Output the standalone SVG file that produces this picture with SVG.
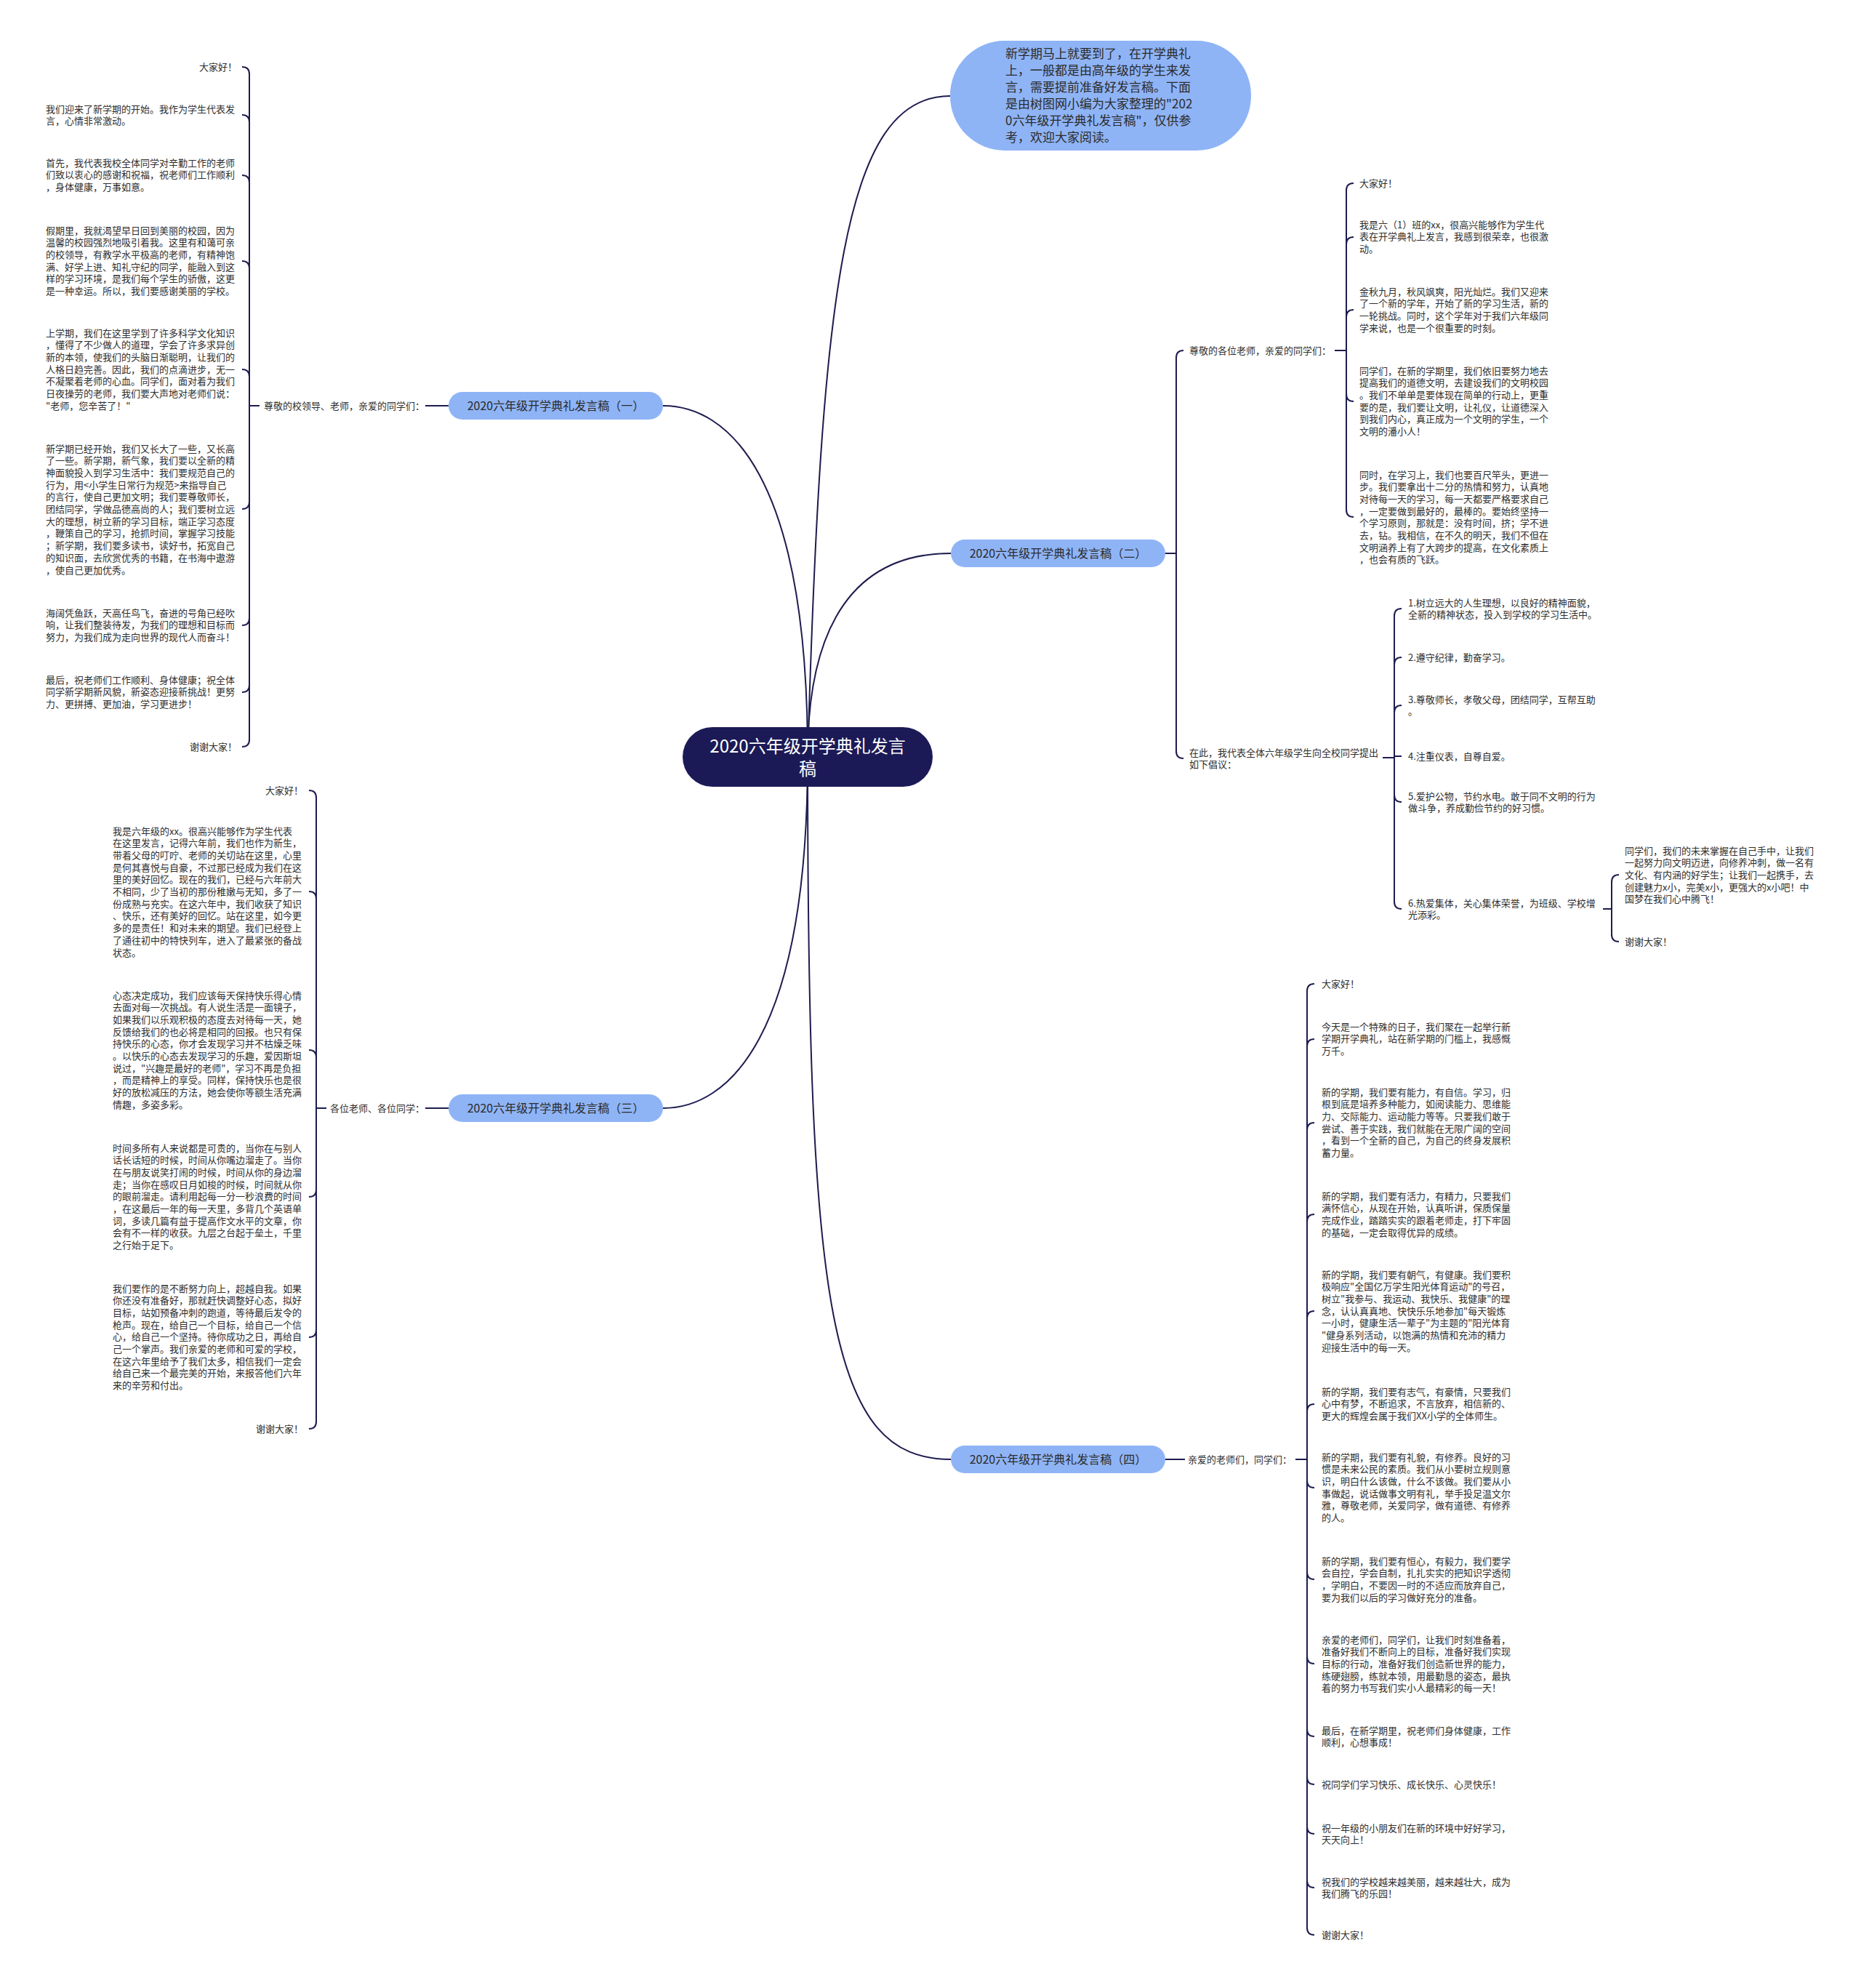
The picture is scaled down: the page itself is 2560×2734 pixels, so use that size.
<svg xmlns="http://www.w3.org/2000/svg" width="2560" height="2734" viewBox="0 0 2560 2734">
<style>
text { font-family: "Noto Sans CJK SC", "Noto Sans", sans-serif; }
.leaf { font-size: 13px; fill: #2e2e2e; }
.e { text-anchor: end; }
.ln { fill: none; stroke: #1e1c4f; stroke-width: 2; }
.n1 { fill: #8fb4f6; }
.t1 { font-size: 16px; fill: #2b2b2b; text-anchor: middle; }
.root { fill: #1c1a56; }
.troot { font-size: 24px; fill: #ffffff; text-anchor: middle; }
.intro { font-size: 17px; fill: #2b2b2b; }
</style>
<rect width="2560" height="2734" fill="#ffffff"/>

<g id="connectors">
  <!-- center to branches -->
  <path class="ln" d="M1111,1040 C1130,400 1160,132 1307,132"/>
  <path class="ln" d="M1111,1040 C1111,650 1000,558 912,558"/>
  <path class="ln" d="M1111,1040 C1111,900 1150,761 1308,761"/>
  <path class="ln" d="M1111,1040 C1111,1430 1000,1524 912,1524"/>
  <path class="ln" d="M1111,1040 C1111,1800 1140,2007 1308,2007"/>

  <!-- branch 1 -->
  <path class="ln" d="M585,558 L617,558"/>
  <path class="ln" d="M343,558 L357,558"/>
  <path class="ln" d="M343,100 L343,1019"/>
  <path class="ln" d="M333,92 Q343,92 343,102"/>
  <path class="ln" d="M333,158 Q343,158 343,168"/>
  <path class="ln" d="M333,241 Q343,241 343,251"/>
  <path class="ln" d="M333,359 Q343,359 343,369"/>
  <path class="ln" d="M333,508 Q343,508 343,518"/>
  <path class="ln" d="M333,700 Q343,700 343,690"/>
  <path class="ln" d="M333,860 Q343,860 343,850"/>
  <path class="ln" d="M333,952 Q343,952 343,942"/>
  <path class="ln" d="M333,1027 Q343,1027 343,1017"/>

  <!-- branch 3 -->
  <path class="ln" d="M585,1524 L617,1524"/>
  <path class="ln" d="M435,1524 L449,1524"/>
  <path class="ln" d="M435,1095 L435,1957"/>
  <path class="ln" d="M425,1087 Q435,1087 435,1097"/>
  <path class="ln" d="M425,1226 Q435,1226 435,1236"/>
  <path class="ln" d="M425,1444 Q435,1444 435,1454"/>
  <path class="ln" d="M425,1646 Q435,1646 435,1636"/>
  <path class="ln" d="M425,1839 Q435,1839 435,1829"/>
  <path class="ln" d="M425,1965 Q435,1965 435,1955"/>

  <!-- branch 2 -->
  <path class="ln" d="M1603,761 L1618,761"/>
  <path class="ln" d="M1618,490 L1618,1035"/>
  <path class="ln" d="M1628,482 Q1618,482 1618,492"/>
  <path class="ln" d="M1628,1043 Q1618,1043 1618,1033"/>
  <!-- label A -->
  <path class="ln" d="M1836,482 L1852,482"/>
  <path class="ln" d="M1852,260 L1852,703"/>
  <path class="ln" d="M1862,252 Q1852,252 1852,262"/>
  <path class="ln" d="M1862,326 Q1852,326 1852,336"/>
  <path class="ln" d="M1862,426 Q1852,426 1852,436"/>
  <path class="ln" d="M1862,552 Q1852,552 1852,542"/>
  <path class="ln" d="M1862,711 Q1852,711 1852,701"/>
  <!-- label B -->
  <path class="ln" d="M1902,1042 L1918,1042"/>
  <path class="ln" d="M1918,845 L1918,1242"/>
  <path class="ln" d="M1928,837 Q1918,837 1918,847"/>
  <path class="ln" d="M1928,904 Q1918,904 1918,914"/>
  <path class="ln" d="M1928,970 Q1918,970 1918,980"/>
  <path class="ln" d="M1918,1040 L1928,1040"/>
  <path class="ln" d="M1928,1103 Q1918,1103 1918,1093"/>
  <path class="ln" d="M1928,1250 Q1918,1250 1918,1240"/>
  <!-- item 6 -->
  <path class="ln" d="M2205,1250 L2217,1250"/>
  <path class="ln" d="M2217,1211 L2217,1287"/>
  <path class="ln" d="M2227,1203 Q2217,1203 2217,1213"/>
  <path class="ln" d="M2227,1295 Q2217,1295 2217,1285"/>

  <!-- branch 4 -->
  <path class="ln" d="M1603,2007 L1630,2007"/>
  <path class="ln" d="M1782,2007 L1798,2007"/>
  <path class="ln" d="M1798,1361 L1798,2653"/>
  <path class="ln" d="M1808,1353 Q1798,1353 1798,1363"/>
  <path class="ln" d="M1808,1429 Q1798,1429 1798,1439"/>
  <path class="ln" d="M1808,1544 Q1798,1544 1798,1554"/>
  <path class="ln" d="M1808,1670 Q1798,1670 1798,1680"/>
  <path class="ln" d="M1808,1803 Q1798,1803 1798,1813"/>
  <path class="ln" d="M1808,1931 Q1798,1931 1798,1941"/>
  <path class="ln" d="M1808,2046 Q1798,2046 1798,2036"/>
  <path class="ln" d="M1808,2172 Q1798,2172 1798,2162"/>
  <path class="ln" d="M1808,2288 Q1798,2288 1798,2278"/>
  <path class="ln" d="M1808,2388 Q1798,2388 1798,2378"/>
  <path class="ln" d="M1808,2454 Q1798,2454 1798,2444"/>
  <path class="ln" d="M1808,2522 Q1798,2522 1798,2512"/>
  <path class="ln" d="M1808,2596 Q1798,2596 1798,2586"/>
  <path class="ln" d="M1808,2661 Q1798,2661 1798,2651"/>
</g>

<g id="root">
  <rect class="root" x="939" y="1000" width="344" height="82" rx="41"/>
  <text class="troot" x="1111" y="1035">2020六年级开学典礼发言</text>
  <text class="troot" x="1111" y="1066">稿</text>
</g>

<g id="intro">
  <rect class="n1" x="1307" y="56" width="414" height="151" rx="75"/>
  <text class="intro" x="1383" y="80">
    <tspan x="1383">新学期马上就要到了，在开学典礼</tspan>
    <tspan x="1383" dy="23">上，一般都是由高年级的学生来发</tspan>
    <tspan x="1383" dy="23">言，需要提前准备好发言稿。下面</tspan>
    <tspan x="1383" dy="23">是由树图网小编为大家整理的"202</tspan>
    <tspan x="1383" dy="23">0六年级开学典礼发言稿"，仅供参</tspan>
    <tspan x="1383" dy="23">考，欢迎大家阅读。</tspan>
  </text>
</g>

<g id="branch1">
  <rect class="n1" x="617" y="539" width="295" height="38" rx="19"/>
  <text class="t1" x="764.5" y="563.5">2020六年级开学典礼发言稿（一）</text>
</g>
<g id="branch2">
  <rect class="n1" x="1308" y="742" width="295" height="38" rx="19"/>
  <text class="t1" x="1455.5" y="766.5">2020六年级开学典礼发言稿（二）</text>
</g>
<g id="branch3">
  <rect class="n1" x="617" y="1505" width="295" height="38" rx="19"/>
  <text class="t1" x="764.5" y="1529.5">2020六年级开学典礼发言稿（三）</text>
</g>
<g id="branch4">
  <rect class="n1" x="1308" y="1988" width="295" height="38" rx="19"/>
  <text class="t1" x="1455.5" y="2012.5">2020六年级开学典礼发言稿（四）</text>
</g>

<g id="b1-children">
  <text class="leaf" x="363" y="562.5">尊敬的校领导、老师，亲爱的同学们：</text>
  <text class="leaf e" x="326" y="96.5">大家好！</text>
  <text class="leaf" x="63" y="154.5"><tspan x="63">我们迎来了新学期的开始。我作为学生代表发</tspan><tspan x="63" dy="16.7">言，心情非常激动。</tspan></text>
  <text class="leaf" x="63" y="228.5"><tspan x="63">首先，我代表我校全体同学对辛勤工作的老师</tspan><tspan x="63" dy="16.7">们致以衷心的感谢和祝福，祝老师们工作顺利</tspan><tspan x="63" dy="16.7">，身体健康，万事如意。</tspan></text>
  <text class="leaf" x="63" y="321.5"><tspan x="63">假期里，我就渴望早日回到美丽的校园，因为</tspan><tspan x="63" dy="16.7">温馨的校园强烈地吸引着我。这里有和蔼可亲</tspan><tspan x="63" dy="16.7">的校领导，有教学水平极高的老师，有精神饱</tspan><tspan x="63" dy="16.7">满、好学上进、知礼守纪的同学，能融入到这</tspan><tspan x="63" dy="16.7">样的学习环境，是我们每个学生的骄傲，这更</tspan><tspan x="63" dy="16.7">是一种幸运。所以，我们要感谢美丽的学校。</tspan></text>
  <text class="leaf" x="63" y="462.5"><tspan x="63">上学期，我们在这里学到了许多科学文化知识</tspan><tspan x="63" dy="16.7">，懂得了不少做人的道理，学会了许多求异创</tspan><tspan x="63" dy="16.7">新的本领，使我们的头脑日渐聪明，让我们的</tspan><tspan x="63" dy="16.7">人格日趋完善。因此，我们的点滴进步，无一</tspan><tspan x="63" dy="16.7">不凝聚着老师的心血。同学们，面对着为我们</tspan><tspan x="63" dy="16.7">日夜操劳的老师，我们要大声地对老师们说：</tspan><tspan x="63" dy="16.7">"老师，您辛苦了！"</tspan></text>
  <text class="leaf" x="63" y="621.5"><tspan x="63">新学期已经开始，我们又长大了一些，又长高</tspan><tspan x="63" dy="16.7">了一些。新学期，新气象，我们要以全新的精</tspan><tspan x="63" dy="16.7">神面貌投入到学习生活中：我们要规范自己的</tspan><tspan x="63" dy="16.7">行为，用&lt;小学生日常行为规范&gt;来指导自己</tspan><tspan x="63" dy="16.7">的言行，使自己更加文明；我们要尊敬师长，</tspan><tspan x="63" dy="16.7">团结同学，学做品德高尚的人；我们要树立远</tspan><tspan x="63" dy="16.7">大的理想，树立新的学习目标，端正学习态度</tspan><tspan x="63" dy="16.7">，鞭策自己的学习，抢抓时间，掌握学习技能</tspan><tspan x="63" dy="16.7">；新学期，我们要多读书，读好书，拓宽自己</tspan><tspan x="63" dy="16.7">的知识面，去欣赏优秀的书籍，在书海中遨游</tspan><tspan x="63" dy="16.7">，使自己更加优秀。</tspan></text>
  <text class="leaf" x="63" y="847.5"><tspan x="63">海阔凭鱼跃，天高任鸟飞，奋进的号角已经吹</tspan><tspan x="63" dy="16.7">响，让我们整装待发，为我们的理想和目标而</tspan><tspan x="63" dy="16.7">努力，为我们成为走向世界的现代人而奋斗！</tspan></text>
  <text class="leaf" x="63" y="939.5"><tspan x="63">最后，祝老师们工作顺利、身体健康；祝全体</tspan><tspan x="63" dy="16.7">同学新学期新风貌，新姿态迎接新挑战！更努</tspan><tspan x="63" dy="16.7">力、更拼搏、更加油，学习更进步！</tspan></text>
  <text class="leaf e" x="326" y="1031.5">谢谢大家！</text>
</g>

<g id="b3-children">
  <text class="leaf" x="454" y="1528.5">各位老师、各位同学：</text>
  <text class="leaf e" x="417" y="1091.5">大家好！</text>
  <text class="leaf" x="155" y="1147.5"><tspan x="155">我是六年级的xx。很高兴能够作为学生代表</tspan><tspan x="155" dy="16.7">在这里发言，记得六年前，我们也作为新生，</tspan><tspan x="155" dy="16.7">带着父母的叮咛、老师的关切站在这里，心里</tspan><tspan x="155" dy="16.7">是何其喜悦与自豪，不过那已经成为我们在这</tspan><tspan x="155" dy="16.7">里的美好回忆。现在的我们，已经与六年前大</tspan><tspan x="155" dy="16.7">不相同，少了当初的那份稚嫩与无知，多了一</tspan><tspan x="155" dy="16.7">份成熟与充实。在这六年中，我们收获了知识</tspan><tspan x="155" dy="16.7">、快乐，还有美好的回忆。站在这里，如今更</tspan><tspan x="155" dy="16.7">多的是责任！和对未来的期望。我们已经登上</tspan><tspan x="155" dy="16.7">了通往初中的特快列车，进入了最紧张的备战</tspan><tspan x="155" dy="16.7">状态。</tspan></text>
  <text class="leaf" x="155" y="1373.5"><tspan x="155">心态决定成功，我们应该每天保持快乐得心情</tspan><tspan x="155" dy="16.7">去面对每一次挑战。有人说生活是一面镜子，</tspan><tspan x="155" dy="16.7">如果我们以乐观积极的态度去对待每一天，她</tspan><tspan x="155" dy="16.7">反馈给我们的也必将是相同的回报。也只有保</tspan><tspan x="155" dy="16.7">持快乐的心态，你才会发现学习并不枯燥乏味</tspan><tspan x="155" dy="16.7">。以快乐的心态去发现学习的乐趣，爱因斯坦</tspan><tspan x="155" dy="16.7">说过，"兴趣是最好的老师"，学习不再是负担</tspan><tspan x="155" dy="16.7">，而是精神上的享受。同样，保持快乐也是很</tspan><tspan x="155" dy="16.7">好的放松减压的方法，她会使你等额生活充满</tspan><tspan x="155" dy="16.7">情趣，多姿多彩。</tspan></text>
  <text class="leaf" x="155" y="1583.5"><tspan x="155">时间多所有人来说都是可贵的，当你在与别人</tspan><tspan x="155" dy="16.7">话长话短的时候，时间从你嘴边溜走了。当你</tspan><tspan x="155" dy="16.7">在与朋友说笑打闹的时候，时间从你的身边溜</tspan><tspan x="155" dy="16.7">走；当你在感叹日月如梭的时候，时间就从你</tspan><tspan x="155" dy="16.7">的眼前溜走。请利用起每一分一秒浪费的时间</tspan><tspan x="155" dy="16.7">，在这最后一年的每一天里，多背几个英语单</tspan><tspan x="155" dy="16.7">词，多读几篇有益于提高作文水平的文章，你</tspan><tspan x="155" dy="16.7">会有不一样的收获。九层之台起于垒土，千里</tspan><tspan x="155" dy="16.7">之行始于足下。</tspan></text>
  <text class="leaf" x="155" y="1776.5"><tspan x="155">我们要作的是不断努力向上，超越自我。如果</tspan><tspan x="155" dy="16.7">你还没有准备好，那就赶快调整好心态，拟好</tspan><tspan x="155" dy="16.7">目标，站如预备冲刺的跑道，等待最后发令的</tspan><tspan x="155" dy="16.7">枪声。现在，给自己一个目标，给自己一个信</tspan><tspan x="155" dy="16.7">心，给自己一个坚持。待你成功之日，再给自</tspan><tspan x="155" dy="16.7">己一个掌声。我们亲爱的老师和可爱的学校，</tspan><tspan x="155" dy="16.7">在这六年里给予了我们太多，相信我们一定会</tspan><tspan x="155" dy="16.7">给自己来一个最完美的开始，来报答他们六年</tspan><tspan x="155" dy="16.7">来的辛劳和付出。</tspan></text>
  <text class="leaf e" x="417" y="1969.5">谢谢大家！</text>
</g>

<g id="b2-children">
  <text class="leaf" x="1636" y="486.5">尊敬的各位老师，亲爱的同学们：</text>
  <text class="leaf" x="1870" y="256.5">大家好！</text>
  <text class="leaf" x="1870" y="313.5"><tspan x="1870">我是六（1）班的xx，很高兴能够作为学生代</tspan><tspan x="1870" dy="16.7">表在开学典礼上发言，我感到很荣幸，也很激</tspan><tspan x="1870" dy="16.7">动。</tspan></text>
  <text class="leaf" x="1870" y="405.5"><tspan x="1870">金秋九月，秋风飒爽，阳光灿烂。我们又迎来</tspan><tspan x="1870" dy="16.7">了一个新的学年，开始了新的学习生活，新的</tspan><tspan x="1870" dy="16.7">一轮挑战。同时，这个学年对于我们六年级同</tspan><tspan x="1870" dy="16.7">学来说，也是一个很重要的时刻。</tspan></text>
  <text class="leaf" x="1870" y="514.5"><tspan x="1870">同学们，在新的学期里，我们依旧要努力地去</tspan><tspan x="1870" dy="16.7">提高我们的道德文明，去建设我们的文明校园</tspan><tspan x="1870" dy="16.7">。我们不单单是要体现在简单的行动上，更重</tspan><tspan x="1870" dy="16.7">要的是，我们要让文明，让礼仪，让道德深入</tspan><tspan x="1870" dy="16.7">到我们内心，真正成为一个文明的学生，一个</tspan><tspan x="1870" dy="16.7">文明的潘小人！</tspan></text>
  <text class="leaf" x="1870" y="657.5"><tspan x="1870">同时，在学习上，我们也要百尺竿头，更进一</tspan><tspan x="1870" dy="16.7">步。我们要拿出十二分的热情和努力，认真地</tspan><tspan x="1870" dy="16.7">对待每一天的学习，每一天都要严格要求自己</tspan><tspan x="1870" dy="16.7">，一定要做到最好的，最棒的。要始终坚持一</tspan><tspan x="1870" dy="16.7">个学习原则，那就是：没有时间，挤；学不进</tspan><tspan x="1870" dy="16.7">去，钻。我相信，在不久的明天，我们不但在</tspan><tspan x="1870" dy="16.7">文明涵养上有了大跨步的提高，在文化素质上</tspan><tspan x="1870" dy="16.7">，也会有质的飞跃。</tspan></text>

  <text class="leaf" x="1636" y="1039.5"><tspan x="1636">在此，我代表全体六年级学生向全校同学提出</tspan><tspan x="1636" dy="16.7">如下倡议：</tspan></text>
  <text class="leaf" x="1937" y="833.5"><tspan x="1937">1.树立远大的人生理想，以良好的精神面貌，</tspan><tspan x="1937" dy="16.7">全新的精神状态，投入到学校的学习生活中。</tspan></text>
  <text class="leaf" x="1937" y="908.5">2.遵守纪律，勤奋学习。</text>
  <text class="leaf" x="1937" y="966.5"><tspan x="1937">3.尊敬师长，孝敬父母，团结同学，互帮互助</tspan><tspan x="1937" dy="16.7">。</tspan></text>
  <text class="leaf" x="1937" y="1044.5">4.注重仪表，自尊自爱。</text>
  <text class="leaf" x="1937" y="1099.5"><tspan x="1937">5.爱护公物，节约水电。敢于同不文明的行为</tspan><tspan x="1937" dy="16.7">做斗争，养成勤俭节约的好习惯。</tspan></text>
  <text class="leaf" x="1937" y="1246.5"><tspan x="1937">6.热爱集体，关心集体荣誉，为班级、学校增</tspan><tspan x="1937" dy="16.7">光添彩。</tspan></text>
  <text class="leaf" x="2235" y="1174.5"><tspan x="2235">同学们，我们的未来掌握在自己手中，让我们</tspan><tspan x="2235" dy="16.7">一起努力向文明迈进，向修养冲刺，做一名有</tspan><tspan x="2235" dy="16.7">文化、有内涵的好学生；让我们一起携手，去</tspan><tspan x="2235" dy="16.7">创建魅力x小，完美x小，更强大的x小吧！中</tspan><tspan x="2235" dy="16.7">国梦在我们心中腾飞！</tspan></text>
  <text class="leaf" x="2235" y="1299.5">谢谢大家！</text>
</g>

<g id="b4-children">
  <text class="leaf" x="1634" y="2011.5">亲爱的老师们，同学们：</text>
  <text class="leaf" x="1818" y="1357.5">大家好！</text>
  <text class="leaf" x="1818" y="1416.5"><tspan x="1818">今天是一个特殊的日子，我们聚在一起举行新</tspan><tspan x="1818" dy="16.7">学期开学典礼，站在新学期的门槛上，我感慨</tspan><tspan x="1818" dy="16.7">万千。</tspan></text>
  <text class="leaf" x="1818" y="1506.5"><tspan x="1818">新的学期，我们要有能力，有自信。学习，归</tspan><tspan x="1818" dy="16.7">根到底是培养多种能力，如阅读能力、思维能</tspan><tspan x="1818" dy="16.7">力、交际能力、运动能力等等。只要我们敢于</tspan><tspan x="1818" dy="16.7">尝试、善于实践，我们就能在无限广阔的空间</tspan><tspan x="1818" dy="16.7">，看到一个全新的自己，为自己的终身发展积</tspan><tspan x="1818" dy="16.7">蓄力量。</tspan></text>
  <text class="leaf" x="1818" y="1649.5"><tspan x="1818">新的学期，我们要有活力，有精力，只要我们</tspan><tspan x="1818" dy="16.7">满怀信心，从现在开始，认真听讲，保质保量</tspan><tspan x="1818" dy="16.7">完成作业，踏踏实实的跟着老师走，打下牢固</tspan><tspan x="1818" dy="16.7">的基础，一定会取得优异的成绩。</tspan></text>
  <text class="leaf" x="1818" y="1757.5"><tspan x="1818">新的学期，我们要有朝气，有健康。我们要积</tspan><tspan x="1818" dy="16.7">极响应"全国亿万学生阳光体育运动"的号召，</tspan><tspan x="1818" dy="16.7">树立"我参与、我运动、我快乐、我健康"的理</tspan><tspan x="1818" dy="16.7">念，认认真真地、快快乐乐地参加"每天锻炼</tspan><tspan x="1818" dy="16.7">一小时，健康生活一辈子"为主题的"阳光体育</tspan><tspan x="1818" dy="16.7">"健身系列活动，以饱满的热情和充沛的精力</tspan><tspan x="1818" dy="16.7">迎接生活中的每一天。</tspan></text>
  <text class="leaf" x="1818" y="1918.5"><tspan x="1818">新的学期，我们要有志气，有豪情，只要我们</tspan><tspan x="1818" dy="16.7">心中有梦，不断追求，不言放弃，相信新的、</tspan><tspan x="1818" dy="16.7">更大的辉煌会属于我们XX小学的全体师生。</tspan></text>
  <text class="leaf" x="1818" y="2008.5"><tspan x="1818">新的学期，我们要有礼貌，有修养。良好的习</tspan><tspan x="1818" dy="16.7">惯是未来公民的素质。我们从小要树立规则意</tspan><tspan x="1818" dy="16.7">识，明白什么该做，什么不该做。我们要从小</tspan><tspan x="1818" dy="16.7">事做起，说话做事文明有礼，举手投足温文尔</tspan><tspan x="1818" dy="16.7">雅，尊敬老师，关爱同学，做有道德、有修养</tspan><tspan x="1818" dy="16.7">的人。</tspan></text>
  <text class="leaf" x="1818" y="2151.5"><tspan x="1818">新的学期，我们要有恒心，有毅力，我们要学</tspan><tspan x="1818" dy="16.7">会自控，学会自制，扎扎实实的把知识学透彻</tspan><tspan x="1818" dy="16.7">，学明白，不要因一时的不适应而放弃自己，</tspan><tspan x="1818" dy="16.7">要为我们以后的学习做好充分的准备。</tspan></text>
  <text class="leaf" x="1818" y="2259.5"><tspan x="1818">亲爱的老师们，同学们，让我们时刻准备着，</tspan><tspan x="1818" dy="16.7">准备好我们不断向上的目标，准备好我们实现</tspan><tspan x="1818" dy="16.7">目标的行动，准备好我们创造新世界的能力，</tspan><tspan x="1818" dy="16.7">练硬翅膀，练就本领，用最勤恳的姿态，最执</tspan><tspan x="1818" dy="16.7">着的努力书写我们实小人最精彩的每一天！</tspan></text>
  <text class="leaf" x="1818" y="2384.5"><tspan x="1818">最后，在新学期里，祝老师们身体健康，工作</tspan><tspan x="1818" dy="16.7">顺利，心想事成！</tspan></text>
  <text class="leaf" x="1818" y="2458.5">祝同学们学习快乐、成长快乐、心灵快乐！</text>
  <text class="leaf" x="1818" y="2518.5"><tspan x="1818">祝一年级的小朋友们在新的环境中好好学习，</tspan><tspan x="1818" dy="16.7">天天向上！</tspan></text>
  <text class="leaf" x="1818" y="2592.5"><tspan x="1818">祝我们的学校越来越美丽，越来越壮大，成为</tspan><tspan x="1818" dy="16.7">我们腾飞的乐园！</tspan></text>
  <text class="leaf" x="1818" y="2665.5">谢谢大家！</text>
</g>
</svg>
